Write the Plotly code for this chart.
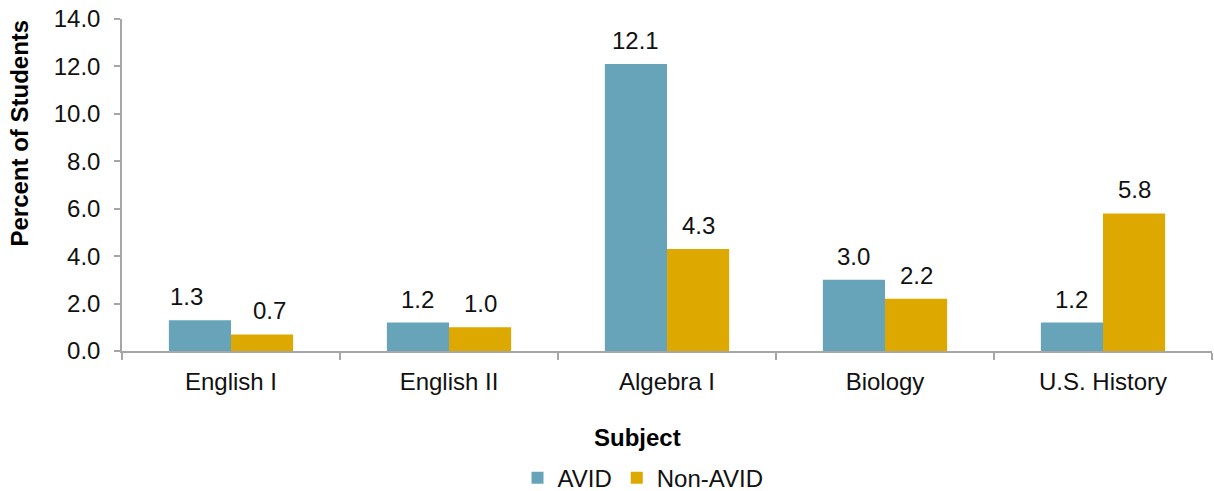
import plotly.graph_objects as go

subjects = ["English I", "English II", "Algebra I", "Biology", "U.S. History"]
avid = [1.3, 1.2, 12.1, 3.0, 1.2]
non_avid = [0.7, 1.0, 4.3, 2.2, 5.8]
series_names = ["AVID", "Non-AVID"]
y_ticks = [0, 2, 4, 6, 8, 10, 12, 14]

COL_AVID = "#67A4BA"
COL_NON = "#DDA900"
AXIS_COL = "#A6A6A6"
FONT = "Liberation Sans, Arial, sans-serif"
FS = 24
BARGAP = 0.43
# manual label nudges seen in the reference (category index, series index) -> px
LABEL_NUDGE = {(0, 0): -13, (0, 1): 7}

fig = go.Figure()
fig.add_trace(go.Bar(x=subjects, y=avid, name=series_names[0],
                     marker=dict(color=COL_AVID, line=dict(width=0))))
fig.add_trace(go.Bar(x=subjects, y=non_avid, name=series_names[1],
                     marker=dict(color=COL_NON, line=dict(width=0))))

annotations = []
half = (1 - BARGAP) / 4
for i, (a, n) in enumerate(zip(avid, non_avid)):
    for s, (off, v) in enumerate(((-half, a), (half, n))):
        annotations.append(dict(x=i + off, y=v, xref="x", yref="y",
                                text=f"{v:.1f}", showarrow=False,
                                yanchor="bottom", yshift=8,
                                xshift=LABEL_NUDGE.get((i, s), 0),
                                font=dict(family=FONT, size=FS, color="#111")))

annotations.append(dict(text="<b>Percent of Students</b>", textangle=-90,
                        xref="paper", yref="paper", x=-0.0936, y=0.658,
                        xanchor="center", yanchor="middle", showarrow=False,
                        font=dict(family=FONT, size=FS, color="#000")))
annotations.append(dict(text="<b>Subject</b>",
                        xref="paper", yref="paper", x=0.473, y=-0.262,
                        xanchor="center", yanchor="middle", showarrow=False,
                        font=dict(family=FONT, size=FS, color="#000")))

fig.update_layout(
    width=1214, height=491,
    margin=dict(l=122, r=2, t=19, b=140, autoexpand=False),
    paper_bgcolor="white", plot_bgcolor="white",
    barmode="group", bargap=BARGAP, bargroupgap=0,
    font=dict(family=FONT, size=FS, color="#111"),
    showlegend=True,
    legend=dict(orientation="h", x=0.478, y=-0.383, xanchor="center",
                yanchor="middle", font=dict(family=FONT, size=FS, color="#111"),
                itemwidth=30, tracegroupgap=0),
    annotations=annotations,
    xaxis=dict(showline=True, linecolor=AXIS_COL, linewidth=1.5,
               ticks="outside", tickson="boundaries", ticklen=7,
               tickcolor=AXIS_COL, tickwidth=1.5, showgrid=False,
               ticklabelstandoff=8, tickfont=dict(family=FONT, size=FS, color="#111")),
    yaxis=dict(range=[0, 14], tickvals=y_ticks, tickformat=".1f",
               showline=True, linecolor=AXIS_COL, linewidth=1.5,
               ticks="outside", ticklen=6, tickcolor=AXIS_COL, tickwidth=1.5,
               showgrid=False, zeroline=False, ticklabelstandoff=9,
               tickfont=dict(family=FONT, size=FS, color="#111")),
)

fig.write_html("out.html", config={"displayModeBar": False},
               post_script="document.body.style.margin='0';document.body.style.overflow='hidden';")
